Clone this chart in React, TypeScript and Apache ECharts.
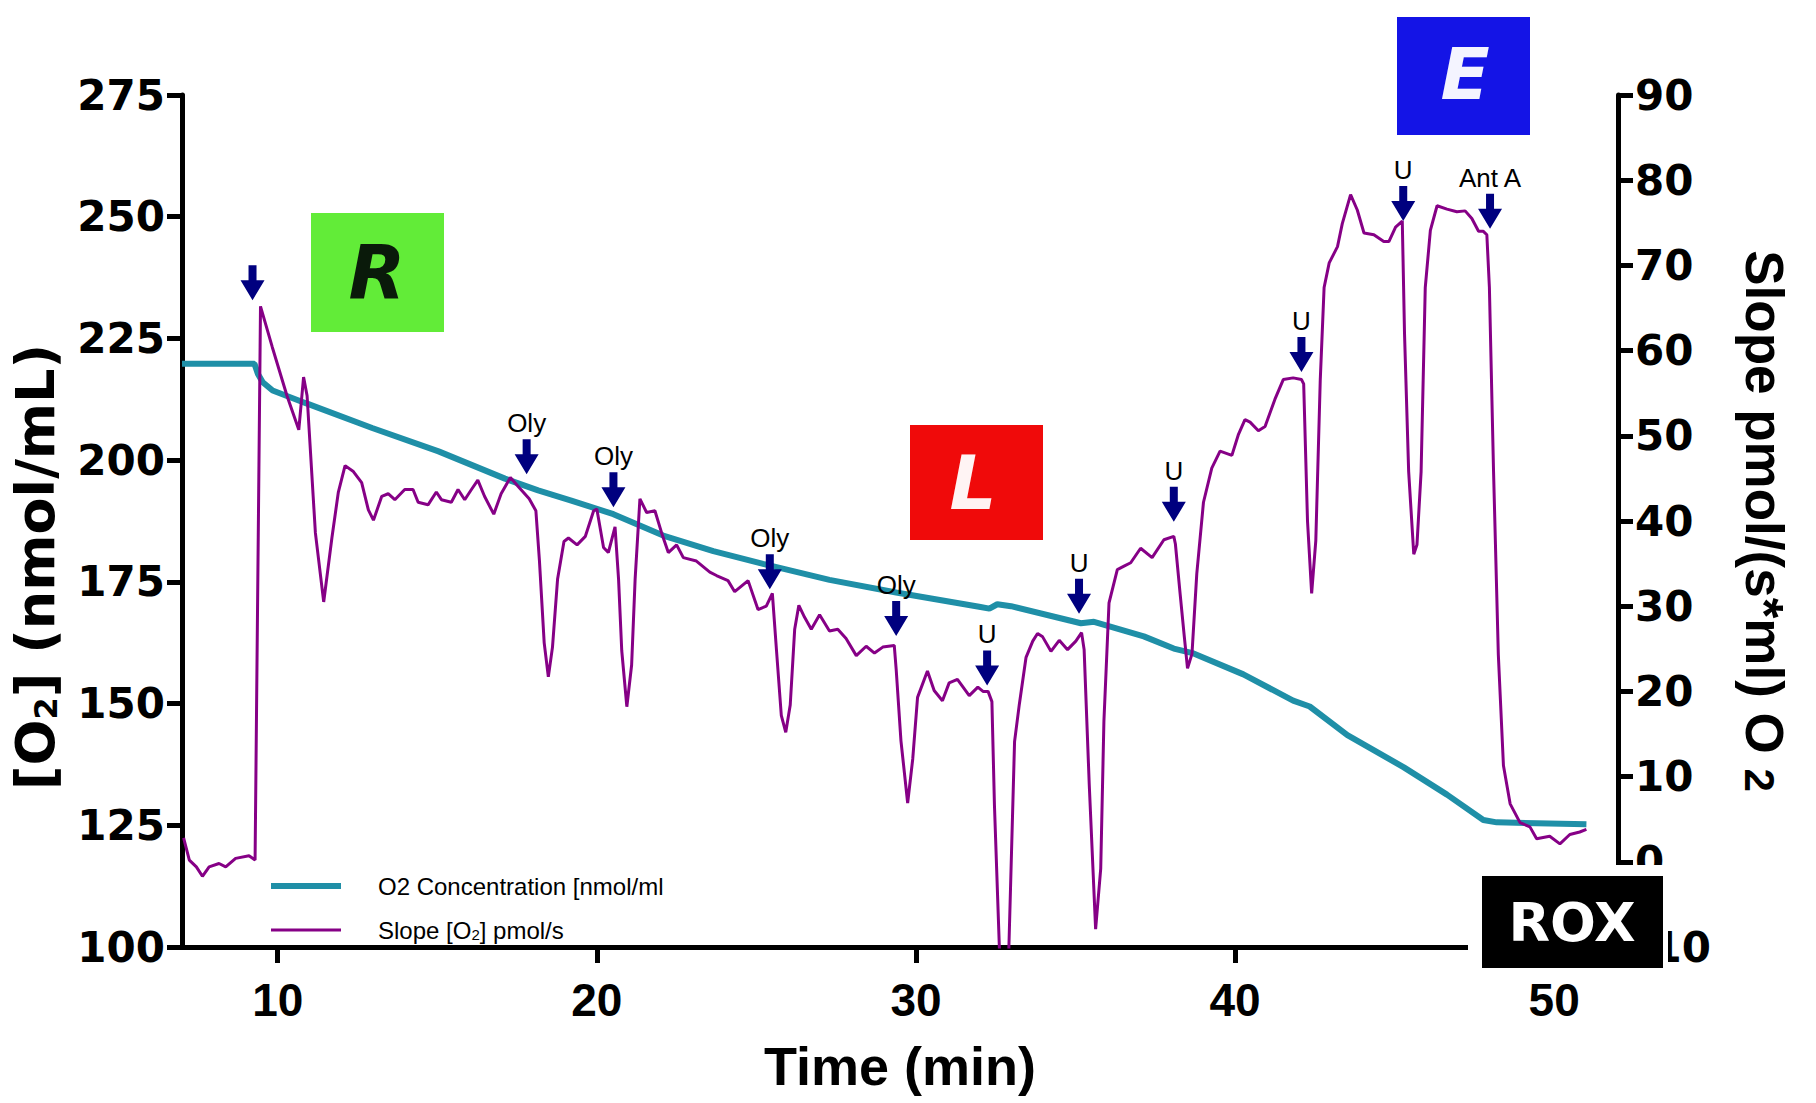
import React, { useEffect, useRef } from "react";
import * as echarts from "echarts";

// ---- Data ----
const o2Time = [7.0, 9.27, 9.38, 9.53, 9.84, 10.88, 12.96, 15.04, 17.12, 18.16, 19.2, 20.52, 22.08, 23.65, 25.21, 27.29, 29.38, 31.98, 32.3, 32.55, 32.98, 35.17, 35.58, 37.14, 38.08, 38.7, 40.26, 41.82, 42.34, 43.52, 45.29, 46.64, 47.78, 48.2, 51.01];
const o2Value = [219.8, 219.8, 217.7, 216.0, 214.3, 211.7, 206.6, 201.8, 196.2, 193.8, 191.7, 188.9, 184.5, 181.3, 178.7, 175.4, 172.8, 169.9, 169.5, 170.4, 170.0, 166.5, 166.8, 163.8, 161.3, 160.3, 156.0, 150.6, 149.4, 143.5, 136.9, 131.3, 126.1, 125.6, 125.2];

const slopeTime = [7.05, 7.23, 7.45, 7.64, 7.85, 8.16, 8.37, 8.68, 9.1, 9.29, 9.46, 9.83, 10.29, 10.66, 10.81, 10.92, 11.18, 11.44, 11.7, 11.9, 12.11, 12.37, 12.63, 12.84, 13.0, 13.26, 13.46, 13.67, 13.98, 14.24, 14.4, 14.71, 14.97, 15.13, 15.44, 15.65, 15.86, 16.07, 16.27, 16.48, 16.77, 17.0, 17.29, 17.57, 17.88, 18.09, 18.2, 18.35, 18.48, 18.61, 18.77, 18.97, 19.11, 19.38, 19.64, 19.9, 20.0, 20.21, 20.36, 20.57, 20.68, 20.78, 20.94, 21.09, 21.2, 21.35, 21.56, 21.82, 22.03, 22.24, 22.5, 22.71, 23.12, 23.54, 23.75, 24.11, 24.32, 24.74, 25.05, 25.31, 25.5, 25.63, 25.78, 25.92, 26.06, 26.2, 26.33, 26.51, 26.72, 26.98, 27.29, 27.55, 27.81, 28.13, 28.44, 28.7, 28.96, 29.32, 29.38, 29.53, 29.74, 29.9, 30.05, 30.36, 30.57, 30.83, 31.04, 31.3, 31.67, 31.94, 32.1, 32.26, 32.38, 32.46, 32.78, 33.09, 33.24, 33.45, 33.66, 33.81, 33.97, 34.23, 34.49, 34.75, 35.01, 35.19, 35.27, 35.43, 35.63, 35.79, 35.89, 36.05, 36.31, 36.52, 36.73, 37.04, 37.4, 37.77, 38.08, 38.13, 38.28, 38.41, 38.51, 38.65, 38.8, 39.01, 39.27, 39.53, 39.9, 40.1, 40.31, 40.47, 40.73, 40.94, 41.25, 41.51, 41.82, 42.08, 42.15, 42.27, 42.4, 42.53, 42.67, 42.79, 42.95, 43.21, 43.36, 43.62, 43.83, 44.04, 44.35, 44.66, 44.82, 45.03, 45.24, 45.31, 45.44, 45.6, 45.7, 45.83, 45.96, 46.12, 46.33, 46.64, 46.95, 47.21, 47.42, 47.63, 47.78, 47.89, 47.97, 48.1, 48.25, 48.41, 48.62, 48.93, 49.24, 49.45, 49.86, 50.18, 50.49, 50.8, 51.01];
const slopeValue = [2.8, 0.2, -0.6, -1.7, -0.6, -0.2, -0.6, 0.4, 0.7, 0.2, 65.2, 60.4, 54.7, 50.7, 56.9, 54.7, 38.6, 30.5, 38.1, 43.4, 46.5, 45.8, 44.5, 41.3, 40.1, 42.9, 43.2, 42.5, 43.7, 43.7, 42.2, 41.9, 43.4, 42.5, 42.2, 43.7, 42.5, 43.7, 44.8, 42.9, 40.8, 43.2, 45.1, 43.9, 42.6, 41.2, 35.4, 25.7, 21.7, 25.2, 33.2, 37.6, 38.0, 37.2, 38.2, 41.2, 41.4, 36.9, 36.3, 39.3, 33.2, 24.8, 18.2, 23.1, 33.2, 42.6, 41.0, 41.2, 38.6, 36.3, 37.2, 35.7, 35.3, 34.0, 33.6, 33.0, 31.7, 33.0, 29.6, 30.0, 31.5, 24.8, 17.2, 15.2, 18.4, 27.3, 30.1, 28.7, 27.3, 29.0, 27.1, 27.3, 26.2, 24.2, 25.3, 24.5, 25.2, 25.4, 22.6, 14.2, 6.9, 12.1, 19.3, 22.4, 20.1, 18.9, 21.0, 21.4, 19.5, 20.5, 20.0, 20.0, 18.8, 6.6, -28, 14.1, 18.5, 24.0, 25.9, 26.8, 26.4, 24.7, 26.0, 24.9, 25.9, 26.9, 24.9, 9.1, -7.9, -0.8, 16.5, 30.4, 34.3, 34.7, 35.1, 36.8, 35.7, 37.8, 38.2, 37.3, 31.4, 26.4, 22.7, 24.4, 33.8, 42.2, 46.2, 48.2, 47.7, 50.1, 51.9, 51.6, 50.6, 51.1, 54.3, 56.6, 56.8, 56.6, 56.1, 40.0, 31.5, 37.7, 56.6, 67.4, 70.3, 72.2, 74.9, 78.3, 76.5, 73.8, 73.6, 72.8, 72.8, 74.5, 75.2, 62.0, 45.8, 36.1, 37.2, 45.8, 67.4, 74.1, 77.0, 76.6, 76.3, 76.4, 75.5, 74.0, 74.0, 73.6, 67.4, 45.8, 24.3, 11.3, 6.8, 4.6, 4.1, 2.7, 3.0, 2.1, 3.2, 3.5, 3.8];

const arrowTime = [9.21, 17.8, 20.52, 25.42, 29.38, 32.23, 35.11, 38.08, 42.08, 45.27, 47.99];
const arrowValue = [65.9, 45.5, 41.6, 32.0, 26.5, 20.7, 29.1, 39.9, 57.5, 75.2, 74.3];
const arrowLabel = ["", "Oly", "Oly", "Oly", "Oly", "U", "U", "U", "U", "U", "Ant A"];

const xTickValues = [10, 20, 30, 40, 50];
const o2Name = "O2 Concentration [nmol/ml";
const slopeName = "Slope [O2] pmol/s";

const TEAL = "#1f8fa7";
const PURPLE = "#860086";
const NAVY = "#00007f";
const ARIAL = "'Liberation Sans', Arial, sans-serif";
const WIDE = "'DejaVu Sans', Verdana, sans-serif";

export default function App() {
  const ref = useRef<HTMLDivElement>(null);
  useEffect(() => {
    const chart = echarts.init(ref.current!, null, { renderer: "svg" });
    const option: any = {
      animation: false,
      backgroundColor: "#ffffff",
      grid: { left: 180, right: 198, top: 95, bottom: 156, containLabel: false },
      legend: {
        orient: "vertical",
        left: 263,
        top: 869,
        itemWidth: 70,
        itemHeight: 14,
        itemGap: 20,
        selectedMode: false,
        data: [
          { name: o2Name, itemStyle: { opacity: 0 }, lineStyle: { width: 6, color: TEAL } },
          { name: slopeName, itemStyle: { opacity: 0 }, lineStyle: { width: 3, color: PURPLE } },
        ],
        formatter: (name: string) => (name === slopeName ? "Slope [O{sub|2}] pmol/s" : name),
        textStyle: {
          fontSize: 24,
          fontFamily: ARIAL,
          color: "#000",
          padding: [0, 0, 0, 32],
          rich: {
            sub: { fontSize: 15, fontFamily: ARIAL, color: "#000", verticalAlign: "bottom" },
          },
        },
      },
      xAxis: {
        type: "value",
        min: 7,
        max: 52,
        axisLine: { show: true, onZero: false, lineStyle: { color: "#000", width: 5 } },
        axisTick: { show: true, customValues: xTickValues, length: 16, lineStyle: { color: "#000", width: 5 } },
        axisLabel: { customValues: xTickValues, fontSize: 46, fontWeight: "bold", fontFamily: ARIAL, color: "#000", margin: 30 },
        splitLine: { show: false },
        name: "Time (min)",
        nameLocation: "middle",
        nameGap: 92,
        nameTextStyle: { fontSize: 54, fontWeight: "bold", fontFamily: ARIAL, color: "#000" },
      },
      yAxis: [
        {
          type: "value",
          position: "left",
          min: 100,
          max: 275,
          interval: 25,
          axisLine: { show: true, onZero: false, lineStyle: { color: "#000", width: 5 } },
          axisTick: { show: true, length: 15, lineStyle: { color: "#000", width: 5 } },
          axisLabel: { fontSize: 42, fontWeight: "bold", fontFamily: WIDE, color: "#000", margin: 17 },
          splitLine: { show: false },
          name: "[O{sub|2}] (nmol/mL)",
          nameLocation: "middle",
          nameGap: 120,
          nameTextStyle: {
            fontSize: 54,
            fontWeight: "bold",
            fontFamily: WIDE,
            color: "#000",
            padding: [0, 92, 0, 0],
            rich: { sub: { fontSize: 32, fontWeight: "bold", fontFamily: WIDE, color: "#000", verticalAlign: "bottom" } },
          },
        },
        {
          type: "value",
          position: "right",
          min: -10,
          max: 90,
          interval: 10,
          axisLine: { show: true, onZero: false, lineStyle: { color: "#000", width: 5 } },
          axisTick: { show: true, length: 15, lineStyle: { color: "#000", width: 5 } },
          axisLabel: { fontSize: 42, fontWeight: "bold", fontFamily: WIDE, color: "#000", margin: 17 },
          splitLine: { show: false },
          name: "Slope pmol/(s*ml) O {sub|2}",
          nameLocation: "middle",
          nameRotate: -90,
          nameGap: 120,
          nameTextStyle: {
            fontSize: 53,
            fontWeight: "bold",
            fontFamily: ARIAL,
            color: "#000",
            rich: { sub: { fontSize: 42, fontWeight: "bold", fontFamily: ARIAL, color: "#000", verticalAlign: "bottom" } },
          },
        },
      ],
      series: [
        {
          name: o2Name,
          type: "line",
          yAxisIndex: 0,
          symbol: "none",
          clip: true,
          lineStyle: { color: TEAL, width: 6 },
          itemStyle: { color: TEAL },
          data: o2Time.map((t, i) => [t, o2Value[i]]),
          z: 2,
        },
        {
          name: slopeName,
          type: "line",
          yAxisIndex: 1,
          symbol: "none",
          clip: true,
          lineStyle: { color: PURPLE, width: 3 },
          itemStyle: { color: PURPLE },
          data: slopeTime.map((t, i) => [t, slopeValue[i]]),
          z: 3,
        },
        {
          name: "arrows",
          type: "scatter",
          yAxisIndex: 1,
          symbol: "path://M8,0 L16,0 L16,15 L24,15 L12,35 L0,15 L8,15 Z",
          symbolSize: [24, 35],
          symbolOffset: [0, "-50%"],
          itemStyle: { color: NAVY, opacity: 1 },
          silent: true,
          z: 5,
          label: {
            show: true,
            position: "top",
            distance: 3,
            fontSize: 26,
            fontFamily: ARIAL,
            color: "#000",
          },
          data: arrowTime.map((t, i) => ({
            value: [t, arrowValue[i]],
            label: { formatter: arrowLabel[i] },
          })),
        },
      ],
      graphic: [
        // R box
        { type: "rect", z: 100, shape: { x: 311, y: 213, width: 133, height: 119 }, style: { fill: "#62ec38" } },
        { type: "text", z: 101, x: 377, y: 273, style: { text: "R", fill: "#0a1a0a", font: "italic bold 74px 'DejaVu Sans'", align: "center", verticalAlign: "middle", textAlign: "center", textVerticalAlign: "middle" } },
        // L box
        { type: "rect", z: 100, shape: { x: 910, y: 425, width: 133, height: 115 }, style: { fill: "#f00a0a" } },
        { type: "text", z: 101, x: 973, y: 483, style: { text: "L", fill: "#fff4f4", font: "italic bold 74px 'DejaVu Sans'", align: "center", verticalAlign: "middle", textAlign: "center", textVerticalAlign: "middle" } },
        // E box
        { type: "rect", z: 100, shape: { x: 1397, y: 17, width: 133, height: 118 }, style: { fill: "#1414e6" } },
        { type: "text", z: 101, x: 1465, y: 74, style: { text: "E", fill: "#f4f4ff", font: "italic bold 72px 'DejaVu Sans'", align: "center", verticalAlign: "middle", textAlign: "center", textVerticalAlign: "middle" } },
        // ROX box
        { type: "rect", z: 100, shape: { x: 1468, y: 865, width: 200, height: 108 }, style: { fill: "#ffffff" } },
        { type: "rect", z: 101, shape: { x: 1482, y: 876, width: 181, height: 92 }, style: { fill: "#000000" } },
        { type: "text", z: 102, x: 1572, y: 922, style: { text: "ROX", fill: "#ffffff", font: "bold 54px 'DejaVu Sans'", align: "center", verticalAlign: "middle", textAlign: "center", textVerticalAlign: "middle" } },
      ],
    };
    chart.setOption(option);
    return () => chart.dispose();
  }, []);
  return (
    <div
      ref={ref}
      style={{ position: "fixed", left: 0, top: 0, width: 1816, height: 1103, background: "#fff" }}
    />
  );
}
